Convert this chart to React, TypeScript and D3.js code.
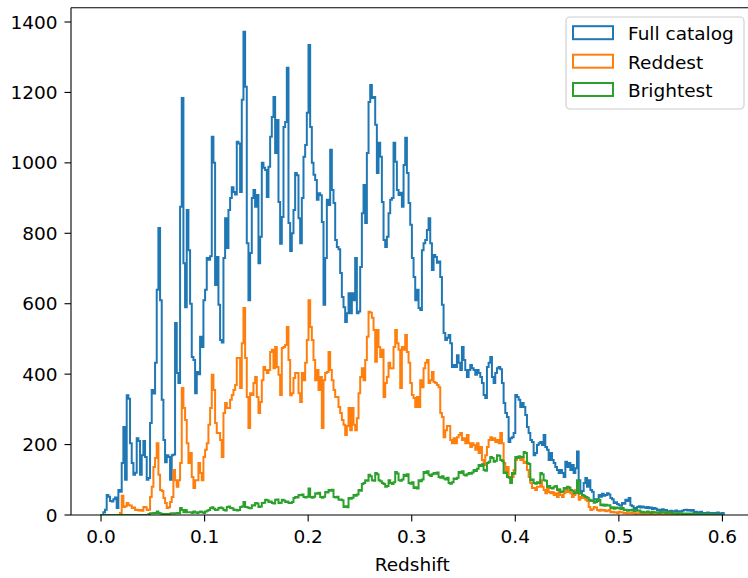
import React from "react";
import * as d3 from "d3";

// Histogram bins (redshift): first edge and width of each bin
const binStart = -0.00097;
const binWidth = 0.0016103;

const fullCatalog = [
  0,0,8,15,57,52,40,38,45,50,
  20,71,66,148,250,100,340,330,204,148,
  114,120,218,210,114,170,210,165,100,105,
  261,355,345,432,640,815,610,327,213,150,
  170,165,100,170,172,545,403,375,875,1184,
  715,590,866,752,
  600,449,440,346,406,400,506,477,610,640,
  730,725,735,1074,1000,653,733,597,497,490,
  730,843,758,866,900,931,917,910,1060,1055,
  917,1179,1372,1216,772,610,744,900,923,875,
  909,715,790,1000,986,980,903,989,1074,1130,
  1187,1028,1122,889,770,846,1102,1116,1270,829,
  750,800,866,971,965,843,772,900,1017,1051,
  1142,1335,1102,1000,966,951,895,914,908,832,
  597,730,895,880,1037,923,886,781,761,755,
  687,619,590,548,573,630,573,630,610,730,
  573,578,704,857,937,829,1028,1173,1221,1184,
  1187,1108,971,1057,1017,889,781,761,790,857,
  895,900,1057,1003,923,909,915,875,994,1071,
  971,886,824,730,676,610,640,588,582,752,
  772,781,809,843,772,696,738,733,716,720,
  676,597,517,497,503,511,488,420,426,420,
  454,432,412,477,440,412,392,412,426,417,
  412,398,412,403,392,375,341,332,420,432,
  449,392,375,403,417,420,414,375,318,290,
  278,207,218,221,233,341,335,327,307,318,
  307,284,250,233,213,207,170,176,199,204,
  207,199,227,193,185,156,176,156,148,136,
  128,119,128,119,108,151,136,148,128,142,
  119,133,180,99,65,68,91,105,80,99,
  71,66,43,45,40,57,52,60,55,57,
  62,58,48,45,34,36,31,28,26,34,
  32,43,40,48,28,25,20,18,23,25,
  21,24,22,20,23,19,21,17,20,18,
  14,15,12,16,13,14,11,9,12,10,
  11,13,9,11,10,12,14,15,13,14,
  12,14,8,9,7,8,9,6,6,5,
  7,5,6,4,6,5,7,5,4,6,
];

const reddest = [
  0,0,0,0,0,0,0,0,0,0,
  0,0,6,55,23,25,34,28,27,20,
  21,14,15,13,14,12,23,22,14,15,
  51,80,136,162,204,114,71,68,48,34,
  20,22,37,51,128,99,80,99,148,361,
  304,270,204,148,
  176,108,77,99,99,148,119,99,165,185,
  204,256,304,398,355,261,233,233,213,165,
  290,318,304,304,327,341,355,369,446,446,
  361,488,588,446,335,247,346,341,375,392,
  335,290,321,383,420,412,403,412,463,469,
  417,477,420,398,341,474,477,483,534,440,
  340,346,389,403,403,346,321,403,383,432,
  497,610,534,497,440,383,412,355,392,247,
  383,403,406,463,412,383,355,335,335,307,
  290,270,256,227,253,304,241,304,256,241,
  275,346,392,417,383,440,506,577,574,560,
  525,435,525,477,449,469,335,375,392,432,
  417,417,477,525,488,469,361,477,469,511,
  463,432,375,341,332,307,335,307,383,363,
  417,432,440,375,383,406,378,375,369,363,
  290,278,221,241,253,253,213,204,218,204,
  221,227,233,213,218,204,227,204,193,204,
  198,185,204,176,193,156,142,170,193,213,
  221,213,218,207,213,204,233,204,148,122,
  136,108,91,108,128,156,162,162,156,162,
  148,151,128,108,91,77,77,71,80,80,
  99,80,71,62,77,65,62,65,57,62,
  51,65,57,51,62,71,65,77,62,51,
  57,71,62,43,51,48,51,43,40,23,
  14,16,23,21,14,12,15,13,14,11,
  12,14,8,9,7,8,6,9,8,7,
  5,6,4,5,6,4,5,3,5,4,
  3,2,3,4,2,3,2,3,1,2,
  3,2,1,2,2,1,3,1,2,1,
  1,2,1,0,1,1,0,1,2,0,
  1,0,1,0,0,1,0,0,1,0,
  0,0,0,0,0,0,0,0,0,0,
];

const brightest = [
  0,0,0,0,0,0,0,0,0,0,
  0,0,0,0,0,0,0,0,0,0,
  0,0,0,0,0,0,0,0,0,3,
  5,5,6,5,10,6,4,3,2,3,
  3,2,4,5,4,5,6,5,20,14,
  8,14,8,8,
  8,6,10,8,6,8,10,8,6,10,
  12,14,20,22,18,14,15,20,21,19,
  14,13,23,24,20,19,14,15,13,14,
  23,24,37,23,22,20,19,28,27,34,
  33,23,24,34,35,43,42,37,38,34,
  33,43,44,34,35,43,41,37,38,34,
  34,37,48,51,50,57,56,58,51,50,
  52,75,51,49,52,62,60,63,51,49,
  52,65,64,71,69,72,51,50,52,43,
  44,42,23,25,22,48,46,49,57,55,
  58,71,69,88,91,99,97,114,110,99,
  97,119,116,99,96,91,88,80,82,99,
  91,88,93,122,118,99,97,101,114,111,
  116,91,89,93,77,79,75,99,96,101,
  122,119,124,114,111,116,119,117,121,108,
  106,110,104,101,106,91,89,93,104,102,
  106,122,119,124,114,112,116,119,117,121,
  128,125,131,142,139,144,128,126,148,151,
  165,162,151,154,170,168,156,153,119,121,
  108,106,91,119,117,165,162,167,164,165,
  179,176,148,145,99,101,91,89,93,91,
  119,116,99,97,80,82,77,75,80,82,
  71,73,65,67,77,75,80,78,71,69,
  62,64,99,62,60,57,55,51,49,43,
  40,42,35,37,45,43,28,30,26,29,
  27,28,20,22,18,21,19,20,17,20,
  14,15,12,14,13,15,11,14,12,13,
  8,9,7,8,10,8,6,9,8,7,
  8,6,9,7,8,6,7,8,5,7,
  4,5,3,4,5,3,4,2,4,3,
  4,3,2,4,3,2,3,2,3,2,
  2,3,1,2,2,1,2,1,1,0,
];

const seriesNames = ["Full catalog", "Reddest", "Brightest"];
const seriesColors = ["#1f77b4", "#ff7f0e", "#2ca02c"];
const xTicks = [0, 0.1, 0.2, 0.3, 0.4, 0.5, 0.6];
const yTicks = [0, 200, 400, 600, 800, 1000, 1200, 1400];
const xLabel = "Redshift";

const FONT = "'DejaVu Sans', sans-serif";

export default function App() {
  const W = 748;
  const H = 578;
  const left = 71;
  const right = 753.5;
  const top = 7.7;
  const bottom = 515;

  const x = d3.scaleLinear().domain([-0.029, 0.63]).range([left, right]);
  const y = d3.scaleLinear().domain([0, 1440.6]).range([bottom, top]);

  const series = [fullCatalog, reddest, brightest];

  const stepPath = (vals: number[]) => {
    const pts: [number, number][] = [];
    pts.push([binStart, 0]);
    vals.forEach((v, i) => {
      const e0 = binStart + i * binWidth;
      const e1 = binStart + (i + 1) * binWidth;
      pts.push([e0, v]);
      pts.push([e1, v]);
    });
    pts.push([binStart + vals.length * binWidth, 0]);
    return d3
      .line<[number, number]>()
      .x((d) => x(d[0]))
      .y((d) => y(d[1]))(pts) as string;
  };

  const legendRows = [40, 68.5, 96.8];

  return (
    <svg
      width={W}
      height={H}
      style={{ position: "absolute", left: 0, top: 0, background: "#fff" }}
      fontFamily={FONT}
    >
      <defs>
        <clipPath id="plotClip">
          <rect x={left} y={top} width={right - left} height={bottom - top} />
        </clipPath>
      </defs>
      <rect x={0} y={0} width={W} height={H} fill="#fff" />
      <g clipPath="url(#plotClip)">
        {series.map((vals, i) => (
          <path
            key={i}
            d={stepPath(vals)}
            fill="none"
            stroke={seriesColors[i]}
            strokeWidth={2}
            strokeLinejoin="miter"
          />
        ))}
      </g>
      {/* spines */}
      <line x1={left} x2={left} y1={top} y2={bottom} stroke="#000" strokeWidth={1.1} />
      <line x1={left} x2={right} y1={bottom} y2={bottom} stroke="#000" strokeWidth={1.1} />
      <line x1={left} x2={right} y1={top} y2={top} stroke="#000" strokeWidth={1.1} />
      <line x1={right} x2={right} y1={top} y2={bottom} stroke="#000" strokeWidth={1.1} />
      {/* x ticks */}
      {xTicks.map((t) => (
        <g key={t}>
          <line x1={x(t)} x2={x(t)} y1={bottom} y2={bottom + 6.5} stroke="#000" strokeWidth={1.1} />
          <text x={x(t)} y={543} textAnchor="middle" fontSize={18.5} fill="#000">
            {t.toFixed(1)}
          </text>
        </g>
      ))}
      {/* y ticks */}
      {yTicks.map((t) => (
        <g key={t}>
          <line x1={left - 6.5} x2={left} y1={y(t)} y2={y(t)} stroke="#000" strokeWidth={1.1} />
          <text x={57.5} y={y(t) + 6.6} textAnchor="end" fontSize={18.5} fill="#000">
            {t}
          </text>
        </g>
      ))}
      <text x={(left + 753.5) / 2} y={571} textAnchor="middle" fontSize={18.5} fill="#000">
        {xLabel}
      </text>
      {/* legend */}
      <rect x={566} y={17} width={178} height={92} rx={4} fill="#fff" fillOpacity={0.8} stroke="#cccccc" strokeWidth={1.1} />
      {seriesNames.map((name, i) => (
        <g key={name}>
          <rect
            x={573}
            y={legendRows[i] - 13.8}
            width={40}
            height={13}
            fill="none"
            stroke={seriesColors[i]}
            strokeWidth={2}
          />
          <text x={628} y={legendRows[i]} fontSize={18.5} fill="#000">
            {name}
          </text>
        </g>
      ))}
    </svg>
  );
}
